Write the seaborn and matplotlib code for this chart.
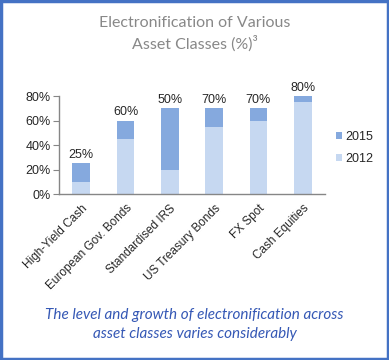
import pandas as pd
import numpy as np
import matplotlib
matplotlib.use('Agg')
import matplotlib.pyplot as plt
import seaborn as sns
from matplotlib.patches import Rectangle

# Datos
categorias = ['High-Yield Cash', 'European Gov. Bonds', 'Standardised IRS',
              'US Treasury Bonds', 'FX Spot', 'Cash Equities']
valores_2012 = [10, 45, 20, 55, 60, 75]
valores_2015 = [25, 60, 70, 70, 70, 80]
etiquetas = ['25%', '60%', '50%', '70%', '70%', '80%']

df = pd.DataFrame({'Categoria': categorias, '2012': valores_2012, '2015': valores_2015})

sns.set_style('white')
plt.rcParams['font.family'] = ['Liberation Sans', 'DejaVu Sans']

color_2015 = '#85a9de'
color_2012 = '#c6d8f1'
color_gris = '#868686'

fig = plt.figure(figsize=(3.89, 3.6), dpi=100)
ax = fig.add_axes([0.152, 0.461, 0.683, 0.272])

# Barras apiladas: el total (2015) detras y 2012 delante
sns.barplot(data=df, x='Categoria', y='2015', color=color_2015, width=0.4,
            saturation=1, ax=ax, label='2015', linewidth=0)
sns.barplot(data=df, x='Categoria', y='2012', color=color_2012, width=0.4,
            saturation=1, ax=ax, label='2012', linewidth=0)

ax.set_ylim(0, 80)
ax.set_xlim(-0.5, len(categorias) - 0.5)
ax.set_yticks([0, 20, 40, 60, 80])
ax.set_yticklabels(['0%', '20%', '40%', '60%', '80%'], fontsize=9)
ax.set_xticks(range(len(categorias)))
ax.set_xticklabels(categorias, rotation=45, ha='right', rotation_mode='anchor', fontsize=8.5)
ax.set_xticks(np.arange(-0.5, len(categorias), 1), minor=True)
ax.tick_params(axis='x', which='major', length=0, pad=6)
ax.tick_params(axis='x', which='minor', length=4, color=color_gris, direction='out')
ax.tick_params(axis='y', length=4, color=color_gris, direction='out', left=True, pad=2)
ax.set_xlabel('')
ax.set_ylabel('')
for lado in ['top', 'right']:
    ax.spines[lado].set_visible(False)
for lado in ['left', 'bottom']:
    ax.spines[lado].set_color(color_gris)
    ax.spines[lado].set_linewidth(1)

# Etiquetas sobre las barras
for i, (tot, txt) in enumerate(zip(valores_2015, etiquetas)):
    ax.text(i, tot + 2, txt, ha='center', va='bottom', fontsize=9, clip_on=False)

leg = ax.legend(loc='center left', bbox_to_anchor=(1.0, 0.47), frameon=False,
                fontsize=9, handlelength=0.5, handleheight=0.5, handletextpad=0.2,
                labelspacing=0.75)

# Titulo y texto inferior
fig.text(0.5, 0.935, 'Electronification of Various', ha='center', va='center',
         fontsize=11.5, color='#888888', family=['Lato', 'DejaVu Sans'])
fig.text(0.5, 0.878, 'Asset Classes (%)³', ha='center', va='center',
         fontsize=11.5, color='#888888', family=['Lato', 'DejaVu Sans'])
fig.text(0.5, 0.125, 'The level and growth of electronification across', ha='center',
         va='center', fontsize=11, color='#3558b5', style='italic',
         family=['Lato', 'DejaVu Sans'])
fig.text(0.5, 0.072, 'asset classes varies considerably', ha='center',
         va='center', fontsize=11, color='#3558b5', style='italic',
         family=['Lato', 'DejaVu Sans'])

# Marco azul
fig.patches.append(Rectangle((0.003, 0.004), 0.994, 0.992, transform=fig.transFigure,
                             fill=False, edgecolor='#4472c4', linewidth=2.5))

plt.savefig('out.png', dpi=100)
